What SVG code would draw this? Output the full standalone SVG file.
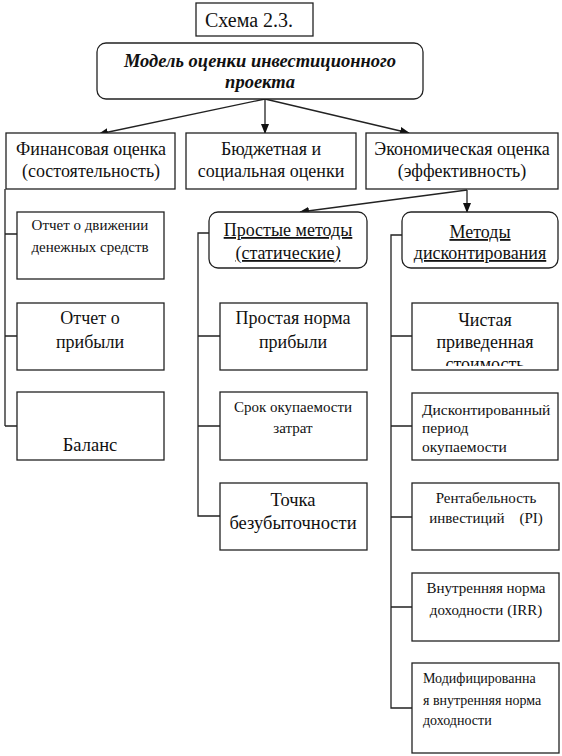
<svg xmlns="http://www.w3.org/2000/svg" width="562" height="756" viewBox="0 0 562 756">
<style>
text{fill:#111;text-anchor:middle}
.box{fill:#fff;stroke:#222;stroke-width:1.3}
.ln{fill:none;stroke:#222;stroke-width:1.3}
.u{text-decoration:underline}
.l{text-anchor:start}
</style>
<defs>
<marker id="ah" markerWidth="10" markerHeight="8" refX="9" refY="4" orient="auto" markerUnits="userSpaceOnUse">
<path d="M0,0 L10,4 L0,8 Z" fill="#111"/>
</marker>
<clipPath id="cp"><rect x="412" y="303" width="146" height="63"/></clipPath>
</defs>
<rect width="562" height="756" fill="#fff"/>
<g font-family="Liberation Serif, Times New Roman, serif">
<g id="connectors">
<path class="ln" d="M265,99 L99,134" marker-end="url(#ah)"/>
<path class="ln" d="M265,99 L265,133" marker-end="url(#ah)"/>
<path class="ln" d="M265,99 L409,133" marker-end="url(#ah)"/>
<path class="ln" d="M467,190 L300,212" marker-end="url(#ah)"/>
<path class="ln" d="M467,190 L467,212" marker-end="url(#ah)"/>
<path class="ln" d="M5,189 L5,426 M5,234 L17,234 M5,336 L17,336 M5,426 L17,426"/>
<path class="ln" d="M209,233 L198,233 L198,516 L220,516 M198,336 L220,336 M198,426 L220,426"/>
<path class="ln" d="M402,235 L391,235 L391,708 L412,708 M391,336 L412,336 M391,426 L412,426 M391,517 L412,517 M391,607 L412,607"/>
</g>
<g id="schema"><rect class="box" x="196" y="3" width="117" height="33"/><text x="249" y="27" font-size="20">Схема 2.3.</text></g>
<g id="model"><rect class="box" x="97" y="43" width="326" height="56" rx="9"/>
<text x="260" y="67" font-size="18.5" font-weight="bold" font-style="italic">Модель оценки инвестиционного</text>
<text x="260" y="88" font-size="18.5" font-weight="bold" font-style="italic">проекта</text></g>
<g id="fin"><rect class="box" x="6" y="133" width="169" height="56"/>
<text x="91" y="155" font-size="18">Финансовая оценка</text><text x="91" y="177" font-size="18">(состоятельность)</text></g>
<g id="budget"><rect class="box" x="186" y="133" width="170" height="56"/>
<text x="271" y="155" font-size="18">Бюджетная и</text><text x="271" y="177" font-size="18">социальная оценки</text></g>
<g id="econ"><rect class="box" x="366" y="133" width="192" height="56"/>
<text x="462" y="155" font-size="18">Экономическая оценка</text><text x="462" y="177" font-size="18">(эффективность)</text></g>
<g id="cash"><rect class="box" x="17" y="212" width="147" height="67"/>
<text x="90" y="230" font-size="15">Отчет о движении</text><text x="90" y="252" font-size="15">денежных средств</text></g>
<g id="profit"><rect class="box" x="17" y="303" width="147" height="67"/>
<text x="90" y="324" font-size="18">Отчет о</text><text x="90" y="348" font-size="18">прибыли</text></g>
<g id="balance"><rect class="box" x="17" y="392" width="147" height="68"/>
<text x="90" y="451" font-size="18.5">Баланс</text></g>
<g id="simple"><rect class="box" x="209" y="212" width="158" height="56" rx="9"/>
<text x="288" y="236" font-size="18" class="u">Простые методы</text><text x="288" y="259" font-size="18" class="u">(статические<tspan font-style="italic">)</tspan></text></g>
<g id="disc"><rect class="box" x="402" y="212" width="156" height="56" rx="9"/>
<text x="480" y="238" font-size="18" class="u">Методы</text><text x="480" y="259" font-size="18" class="u">дисконтирования</text></g>
<g id="spr"><rect class="box" x="220" y="303" width="147" height="67"/>
<text x="293" y="324" font-size="18">Простая норма</text><text x="293" y="348" font-size="18">прибыли</text></g>
<g id="payback"><rect class="box" x="220" y="392" width="147" height="68"/>
<text x="293" y="412" font-size="15">Срок окупаемости</text><text x="293" y="433" font-size="15">затрат</text></g>
<g id="breakeven"><rect class="box" x="220" y="483" width="147" height="67"/>
<text x="293" y="506" font-size="18.5">Точка</text><text x="293" y="529" font-size="18.5">безубыточности</text></g>
<g id="npv"><rect class="box" x="412" y="303" width="146" height="67"/>
<text x="485" y="326" font-size="18">Чистая</text><text x="485" y="348" font-size="18">приведенная</text>
<text x="485" y="370" font-size="18" clip-path="url(#cp)">стоимость</text></g>
<g id="dpp"><rect class="box" x="412" y="393" width="146" height="67"/>
<text class="l" x="422" y="415" font-size="15.5">Дисконтированный</text><text class="l" x="422" y="433" font-size="15.5">период</text><text class="l" x="422" y="452" font-size="15.5">окупаемости</text></g>
<g id="pi"><rect class="box" x="412" y="483" width="147" height="67"/>
<text x="486" y="503" font-size="15">Рентабельность</text><text x="486" y="523" font-size="15" xml:space="preserve">инвестиций    (PI)</text></g>
<g id="irr"><rect class="box" x="412" y="573" width="147" height="68"/>
<text x="486" y="593" font-size="15">Внутренняя норма</text><text x="486" y="615" font-size="15">доходности (IRR)</text></g>
<g id="mirr"><rect class="box" x="412" y="663" width="147" height="90"/>
<text class="l" x="423" y="683" font-size="14">Модифицированна</text><text class="l" x="423" y="705" font-size="14">я внутренняя норма</text><text class="l" x="423" y="725" font-size="14">доходности</text></g>
</g>
</svg>
